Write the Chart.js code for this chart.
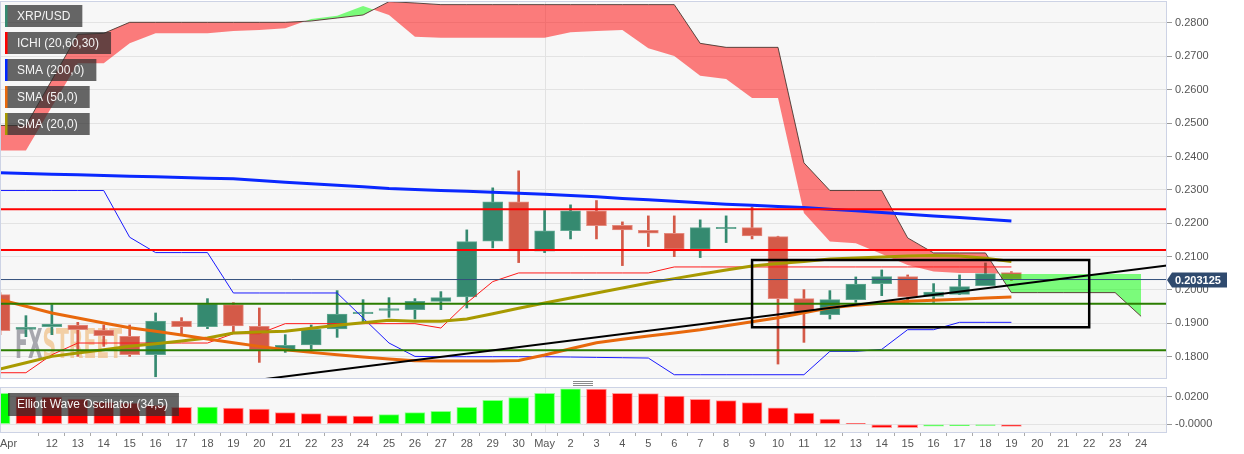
<!DOCTYPE html>
<html>
<head>
<meta charset="utf-8">
<script src="https://cdn.jsdelivr.net/npm/chart.js@4.4.1/dist/chart.umd.min.js"></script>
<style>
  html, body { margin: 0; padding: 0; background: #fff; }
  #wrap { position: relative; width: 1244px; height: 454px; }
  canvas { position: absolute; left: 0; display: block; }
  #main { top: 0; }
  #osc { top: 380px; }
</style>
</head>
<body>
<div id="wrap">
  <canvas id="main" width="1244" height="380"></canvas>
  <canvas id="osc" width="1244" height="74"></canvas>
</div>
<script>
// XRP/USD daily, Apr 10 .. May 19 (index 0 = Apr 10)
const dayLabels = ['Apr', '', '12', '13', '14', '15', '16', '17', '18', '19', '20', '21', '22', '23', '24',
  '25', '26', '27', '28', '29', '30', 'May', '2', '3', '4', '5', '6', '7', '8', '9', '10', '11', '12',
  '13', '14', '15', '16', '17', '18', '19', '20', '21', '22', '23', '24', ''];
const monthStarts = [21];

const open = [0.1986, 0.1882, 0.1890, 0.1895, 0.1880, 0.1861, 0.1806, 0.1907, 0.1890, 0.1956,
  0.1891, 0.1819, 0.1835, 0.1883, 0.1929, 0.1939, 0.1941, 0.1966, 0.1979, 0.2146,
  0.2264, 0.2116, 0.2178, 0.2237, 0.2194, 0.2179, 0.2170, 0.2122, 0.2184, 0.2187,
  0.2160, 0.1974, 0.1926, 0.1971, 0.2019, 0.2040, 0.1981, 0.1987, 0.2013, 0.2052];
const high = [0.1992, 0.1923, 0.1956, 0.1903, 0.1895, 0.1895, 0.1931, 0.1917, 0.1974, 0.1962,
  0.1946, 0.1866, 0.1895, 0.1998, 0.1971, 0.1977, 0.1974, 0.1995, 0.2180, 0.2306,
  0.2357, 0.2238, 0.2255, 0.2268, 0.2204, 0.2222, 0.2222, 0.2210, 0.2222, 0.2249,
  0.2161, 0.2001, 0.1998, 0.2039, 0.2060, 0.2045, 0.2019, 0.2045, 0.2081, 0.2055];
const low = [0.1866, 0.1860, 0.1866, 0.1801, 0.1831, 0.1801, 0.1740, 0.1869, 0.1884, 0.1869,
  0.1783, 0.1813, 0.1823, 0.1858, 0.1901, 0.1918, 0.1913, 0.1941, 0.1946, 0.2126,
  0.2082, 0.2112, 0.2153, 0.2153, 0.2073, 0.2130, 0.2100, 0.2097, 0.2142, 0.2153,
  0.1778, 0.1843, 0.1913, 0.1963, 0.1983, 0.1963, 0.1963, 0.1986, 0.2013, 0.2028];
const close = [0.1878, 0.1888, 0.1898, 0.1881, 0.1863, 0.1806, 0.1907, 0.1890, 0.1958, 0.1892,
  0.1821, 0.1834, 0.1882, 0.1928, 0.1934, 0.1944, 0.1966, 0.1977, 0.2145, 0.2264,
  0.2117, 0.2177, 0.2237, 0.2193, 0.2180, 0.2170, 0.2122, 0.2187, 0.2188, 0.2162,
  0.1974, 0.1936, 0.1971, 0.2018, 0.2040, 0.1979, 0.1994, 0.2010, 0.2049, 0.203125];

const sma200 = [0.2351, 0.2349, 0.2347, 0.2345, 0.2343, 0.2341, 0.2339, 0.2337, 0.2335, 0.2333,
  0.2328, 0.2323, 0.2318, 0.2314, 0.2309, 0.2304, 0.2301, 0.2298, 0.2296, 0.2293,
  0.2290, 0.2287, 0.2283, 0.2279, 0.2274, 0.2270, 0.2266, 0.2261, 0.2257, 0.2254,
  0.2250, 0.2247, 0.2242, 0.2237, 0.2232, 0.2227, 0.2222, 0.2217, 0.2212, 0.2207];
const sma50 = [0.1971, 0.1951, 0.1931, 0.1916, 0.1901, 0.1887, 0.1876, 0.1865, 0.1853, 0.1842,
  0.1831, 0.1821, 0.1813, 0.1806, 0.1799, 0.1793, 0.1788, 0.1787, 0.1787, 0.1787,
  0.1789, 0.1805, 0.1824, 0.1842, 0.1852, 0.1862, 0.1871, 0.1881, 0.1893, 0.1905,
  0.1917, 0.1932, 0.1947, 0.1954, 0.1960, 0.1966, 0.1969, 0.1972, 0.1976, 0.1979];
const sma20 = [0.1763, 0.1782, 0.1801, 0.1811, 0.1821, 0.1831, 0.1839, 0.1847, 0.1856, 0.1871,
  0.1874, 0.1876, 0.1885, 0.1894, 0.1902, 0.1909, 0.1906, 0.1906, 0.1913, 0.1929,
  0.1945, 0.1961, 0.1976, 0.1991, 0.2006, 0.2021, 0.2034, 0.2047, 0.2060, 0.2072,
  0.2079, 0.2085, 0.2093, 0.2096, 0.2099, 0.2102, 0.2103, 0.2102, 0.2095, 0.2085];

// ichimoku (20,60,30)
const tenkan = [0.1752, 0.1752, 0.1806, 0.1841, 0.1841, 0.1841, 0.1841, 0.1841, 0.1841, 0.1869,
  0.1869, 0.1899, 0.1899, 0.1899, 0.1899, 0.1899, 0.1899, 0.1886, 0.1961, 0.2025,
  0.2051, 0.2051, 0.2051, 0.2051, 0.2051, 0.2051, 0.2069, 0.2069, 0.2069, 0.2069,
  0.2069, 0.2069, 0.2069, 0.2069, 0.2069, 0.2069, 0.2069, 0.2069, 0.2069, 0.2069];
const kijun = [0.2298, 0.2298, 0.2298, 0.2298, 0.2298, 0.2158, 0.2112, 0.2112, 0.2112, 0.1991,
  0.1991, 0.1991, 0.1991, 0.1991, 0.1916, 0.1841, 0.1801, 0.1800, 0.1800, 0.1800,
  0.1800, 0.1800, 0.1799, 0.1798, 0.1797, 0.1796, 0.1746, 0.1746, 0.1746, 0.1746,
  0.1746, 0.1746, 0.1816, 0.1816, 0.1822, 0.1881, 0.1881, 0.1903, 0.1903, 0.1903];
// cloud spans run 5 days past the last candle
const spanB = [0.2493, 0.2493, 0.2629, 0.2766, 0.2769, 0.2802, 0.2802, 0.2802, 0.2802, 0.2802,
  0.2802, 0.2802, 0.2806, 0.2815, 0.2824, 0.2864, 0.2860, 0.2855, 0.2855, 0.2855,
  0.2855, 0.2855, 0.2855, 0.2855, 0.2855, 0.2855, 0.2855, 0.2739, 0.2727, 0.2727,
  0.2727, 0.2381, 0.2298, 0.2298, 0.2298, 0.2156, 0.2111, 0.2111, 0.2111, 0.1992,
  0.1992, 0.1992, 0.1992, 0.1992, 0.1921];
const spanA = [0.2418, 0.2418, 0.2549, 0.2679, 0.2679, 0.2739, 0.2769, 0.2769, 0.2769, 0.2776,
  0.2779, 0.2784, 0.2812, 0.2822, 0.2851, 0.2824, 0.2759, 0.2756, 0.2756, 0.2756,
  0.2756, 0.2756, 0.2772, 0.2776, 0.2779, 0.2724, 0.2701, 0.2642, 0.2632, 0.2575,
  0.2575, 0.2231, 0.2145, 0.2140, 0.2108, 0.2075, 0.2055, 0.2051, 0.2051, 0.2048,
  0.2048, 0.2048, 0.2048, 0.2048, 0.2048];

const resistanceLevels = [0.2242, 0.2120];
const supportLevels = [0.1959, 0.1819];
const trendDays = [10, 45];
const trendPrices = [0.1731, 0.2073];
const boxDays = [29, 42];
const boxPrices = [0.1888, 0.2090];

const priceTicks = [0.18, 0.19, 0.20, 0.21, 0.22, 0.23, 0.24, 0.25, 0.26, 0.27, 0.28];

// Elliott Wave Oscillator (34,5)
const ewo = [0.0225, 0.0200, 0.0198, 0.0183, 0.0160, 0.0155, 0.0138, 0.0123, 0.0125, 0.0118,
  0.0110, 0.0085, 0.0078, 0.0063, 0.0060, 0.0070, 0.0085, 0.0095, 0.0123, 0.0175,
  0.0195, 0.0225, 0.0258, 0.0255, 0.0225, 0.0223, 0.0205, 0.0182, 0.0172, 0.0157,
  0.0119, 0.0081, 0.0038, 0.0005, -0.0025, -0.0025, -0.0014, -0.0010, -0.0009, -0.0016];
const oscTicks = [0, 0.02];
const oscTickLabels = ['-0.0000', '0.0200'];

const legendNames = ['XRP/USD', 'ICHI (20,60,30)', 'SMA (200,0)', 'SMA (50,0)', 'SMA (20,0)'];
const legendColors = ['#358a70', '#ff0000', '#0026ff', '#e8680c', '#a89a00'];

Chart.defaults.font.family = '"Liberation Sans", Arial, sans-serif';
Chart.defaults.font.size = 11;
Chart.defaults.color = '#555';
Chart.defaults.animation = false;

const FONT = '"Liberation Sans", Arial, sans-serif';
const UP = '#358a70', DOWN = '#d45a48';
const pts = arr => arr.map((v, i) => ({ x: i, y: v }));
const flat = v => [{ x: 0, y: v }, { x: 45, y: v }];
const isUp = open.map((o, i) => close[i] >= o);

function lineSet(data, color, width, order, extra) {
  return Object.assign({
    type: 'line', data: data, borderColor: color, borderWidth: width,
    pointRadius: 0, pointHoverRadius: 0, fill: false, tension: 0, order: order
  }, extra || {});
}

// shared panel painting: bg, month line, border
const panelPaint = {
  id: 'panelPaint',
  beforeDraw(chart) {
    const { ctx, chartArea: a } = chart;
    ctx.save();
    ctx.fillStyle = '#fff';
    ctx.fillRect(0, 0, chart.width, chart.height);
    ctx.fillStyle = '#f7f7f7';
    ctx.fillRect(a.left, a.top, a.right - a.left, a.bottom - a.top);
    ctx.restore();
  },
  beforeDatasetsDraw(chart) {
    const { ctx, chartArea: a } = chart;
    const x = chart.scales.x;
    ctx.save();
    ctx.strokeStyle = '#e2e2e2';
    ctx.lineWidth = 1;
    monthStarts.forEach(i => {
      const px = Math.round(x.getPixelForValue(i)) + 0.5;
      ctx.beginPath(); ctx.moveTo(px, a.top); ctx.lineTo(px, a.bottom); ctx.stroke();
    });
    ctx.restore();
  },
  afterDraw(chart) {
    const { ctx, chartArea: a } = chart;
    ctx.save();
    ctx.strokeStyle = '#cdd3e5';
    ctx.lineWidth = 1;
    ctx.strokeRect(a.left + 0.5, a.top + 0.5, a.right - a.left - 1, a.bottom - a.top);
    ctx.restore();
  }
};

const mainExtras = {
  id: 'mainExtras',
  beforeDatasetsDraw(chart) {
    // FXSTREET watermark
    const { ctx } = chart;
    ctx.save();
    ctx.font = 'bold 40px "DejaVu Sans Condensed", "DejaVu Sans", sans-serif';
    ctx.textBaseline = 'alphabetic';
    const wFX = ctx.measureText('FX').width, wST = ctx.measureText('STREET').width;
    const sx = 107 / (wFX + wST);
    ctx.translate(15, 358);
    ctx.scale(sx, 1);
    ctx.fillStyle = 'rgba(140,140,150,0.75)';
    ctx.fillText('FX', 0, 0);
    ctx.fillStyle = 'rgba(240,190,130,0.7)';
    ctx.fillText('STREET', wFX, 0);
    ctx.restore();
  },
  afterDraw(chart) {
    const { ctx, chartArea: a } = chart;
    ctx.save();
    // legend boxes
    ctx.font = '12px ' + FONT;
    ctx.textBaseline = 'middle';
    legendNames.forEach((name, i) => {
      const top = 5 + i * 27;
      const w = ctx.measureText(name).width;
      ctx.fillStyle = 'rgba(45,45,45,0.72)';
      ctx.fillRect(7, top, w + 22, 22);
      ctx.fillStyle = legendColors[i];
      ctx.fillRect(5, top, 2.5, 22);
      ctx.fillStyle = '#f4f4f4';
      ctx.fillText(name, 17, top + 11.5);
    });
    // last price tag
    const last = close[close.length - 1];
    const y = Math.round(chart.scales.y.getPixelForValue(last));
    const x0 = a.right + 2;
    ctx.fillStyle = '#2f4a6e';
    ctx.beginPath();
    ctx.moveTo(x0 - 2, y);
    ctx.lineTo(x0 + 3, y - 7.5);
    ctx.lineTo(x0 + 58, y - 7.5);
    ctx.lineTo(x0 + 58, y + 7.5);
    ctx.lineTo(x0 + 3, y + 7.5);
    ctx.closePath();
    ctx.fill();
    ctx.fillStyle = '#fff';
    ctx.font = 'bold 11px ' + FONT;
    ctx.fillText(last.toFixed(6), x0 + 6, y + 0.5);
    ctx.restore();
  }
};

const oscExtras = {
  id: 'oscExtras',
  afterDraw(chart) {
    const { ctx } = chart;
    ctx.save();
    ctx.fillStyle = 'rgba(45,45,45,0.72)';
    ctx.font = '12px ' + FONT;
    const label = 'Elliott Wave Oscillator (34,5)';
    const w = ctx.measureText(label).width;
    ctx.fillRect(8, 13, w + 20, 23);
    ctx.fillStyle = '#f4f4f4';
    ctx.textBaseline = 'middle';
    ctx.fillText(label, 17, 25);
    // panel resize handle
    ctx.strokeStyle = '#8a8a8a';
    ctx.lineWidth = 1;
    [1.5, 3.5, 5.5].forEach(y => {
      ctx.beginPath(); ctx.moveTo(573, y); ctx.lineTo(593, y); ctx.stroke();
    });
    ctx.restore();
  }
};

const yAxisFit = s => { s.width = 77; s.paddingTop = 0; s.paddingBottom = 0; };

new Chart(document.getElementById('main'), {
  type: 'bar',
  data: {
    datasets: [
      {
        label: 'wicks', data: open.map((o, i) => ({ x: i, y: [low[i], high[i]] })),
        backgroundColor: isUp.map(u => u ? UP : DOWN), barThickness: 2, grouped: false, order: 20
      },
      {
        label: 'bodies', data: open.map((o, i) => ({ x: i, y: [o, close[i]] })),
        backgroundColor: isUp.map(u => u ? UP : DOWN),
        borderColor: isUp.map(u => u ? '#62a892' : '#e48a7e'), borderWidth: 1, borderSkipped: false,
        barThickness: 20, grouped: false, order: 19
      },
      lineSet(pts(spanB), 'rgba(70,40,40,0.85)', 1, 11),
      lineSet(pts(spanA), 'rgba(0,0,0,0)', 0, 12, {
        fill: { target: 2, above: 'rgba(0,255,0,0.5)', below: 'rgba(255,0,0,0.5)' }
      }),
      lineSet(pts(tenkan), '#ff1a1a', 1, 6),
      lineSet(pts(kijun), '#1a1aff', 1, 6),
      lineSet(pts(sma200), '#0a28ff', 3, 5),
      lineSet(pts(sma50), '#e8680c', 3, 5),
      lineSet(pts(sma20), '#a89a00', 3, 5),
      ...resistanceLevels.map(v => lineSet(flat(v), '#ff0000', 2, 3)),
      ...supportLevels.map(v => lineSet(flat(v), '#2b7d00', 2, 3)),
      lineSet(flat(close[close.length - 1]), '#34507c', 1, 3),
      lineSet([{ x: trendDays[0], y: trendPrices[0] }, { x: trendDays[1], y: trendPrices[1] }], '#000', 2, 2),
      lineSet([
        { x: boxDays[0], y: boxPrices[1] }, { x: boxDays[1], y: boxPrices[1] },
        { x: boxDays[1], y: boxPrices[0] }, { x: boxDays[0], y: boxPrices[0] },
        { x: boxDays[0], y: boxPrices[1] }
      ], '#000', 2.5, 1, { borderJoinStyle: 'miter', borderCapStyle: 'square' })
    ]
  },
  options: {
    responsive: false,
    layout: { padding: { left: 0, right: 0, top: 1, bottom: 2 } },
    plugins: { legend: { display: false }, tooltip: { enabled: false } },
    scales: {
      x: { type: 'linear', min: 0, max: 45, offset: false, display: false },
      y: {
        position: 'right', min: 0.17362, max: 0.28659, beginAtZero: false,
        afterBuildTicks: axis => { axis.ticks = priceTicks.map(v => ({ value: v })); },
        afterFit: yAxisFit,
        ticks: { callback: v => v.toFixed(4), color: '#555', padding: 3 },
        grid: { color: '#e3e3e3', tickColor: '#999', tickLength: 5 },
        border: { display: false }
      }
    }
  },
  plugins: [panelPaint, mainExtras]
});

new Chart(document.getElementById('osc'), {
  type: 'bar',
  data: {
    datasets: [{
      label: 'EWO', data: pts(ewo),
      backgroundColor: ewo.map((v, i) => (i === 0 || v > ewo[i - 1]) ? '#00ff00' : '#ff0000'),
      borderColor: ewo.map((v, i) => (i === 0 || v > ewo[i - 1]) ? '#8dff8d' : '#ff9a9a'),
      borderWidth: 1, borderSkipped: false, barThickness: 20, grouped: false
    }]
  },
  options: {
    responsive: false,
    layout: { padding: { left: 0, right: 0, top: 7, bottom: 0 } },
    plugins: { legend: { display: false }, tooltip: { enabled: false } },
    scales: {
      x: {
        type: 'linear', min: 0, max: 45, offset: false,
        afterBuildTicks: axis => { axis.ticks = dayLabels.map((_, i) => ({ value: i })); },
        afterFit: s => { s.height = 22; s.paddingLeft = 0; s.paddingRight = 0; },
        ticks: { callback: v => dayLabels[v] || '', autoSkip: false, maxRotation: 0, align: 'inner', padding: 1, color: '#555' },
        grid: {
          drawOnChartArea: false, tickLength: 4,
          tickColor: c => (c.tick && dayLabels[c.tick.value]) ? '#aaa' : 'rgba(0,0,0,0)'
        },
        border: { display: false }
      },
      y: {
        position: 'right', min: -0.0056, max: 0.0271, beginAtZero: false,
        afterBuildTicks: axis => { axis.ticks = oscTicks.map(v => ({ value: v })); },
        afterFit: yAxisFit,
        ticks: { callback: v => oscTickLabels[oscTicks.indexOf(v)], color: '#555', padding: 3 },
        grid: { color: '#e3e3e3', tickColor: '#999', tickLength: 5 },
        border: { display: false }
      }
    }
  },
  plugins: [panelPaint, oscExtras]
});
</script>
</body>
</html>
